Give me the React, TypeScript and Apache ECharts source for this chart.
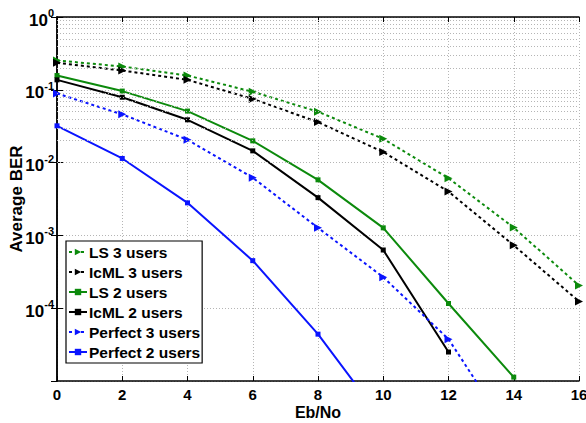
import React, { useEffect, useRef } from "react";
import * as echarts from "echarts";

const xValues = [0, 2, 4, 6, 8, 10, 12, 14, 16];
const ls3 = [0.253, 0.209, 0.157, 0.094, 0.05, 0.0212, 0.0061, 0.00128, 0.000205];
const icml3 = [0.235, 0.184, 0.137, 0.075, 0.036, 0.014, 0.004, 0.00073, 0.000124];
const ls2 = [0.157, 0.096, 0.051, 0.0199, 0.0058, 0.00127, 0.000116, 0.0000113];
const icml2 = [0.137, 0.079, 0.0387, 0.0145, 0.0033, 0.00063, 0.000025];
const perfect3 = [0.089, 0.046, 0.0206, 0.0062, 0.00127, 0.000267, 0.0000376, 0.0000016];
const perfect2 = [0.032, 0.0114, 0.0028, 0.00045, 0.000044, 0.0000028];
const seriesNames = ["LS 3 users", "IcML 3 users", "LS 2 users", "IcML 2 users", "Perfect 3 users", "Perfect 2 users"];

const FONT = "Liberation Sans";
const GREEN = "#0c8a0c";
const BLUE = "#0a14ff";
const BLACK = "#000000";

function pairs(vals: number[]) {
  return vals.map((v, i) => [xValues[i], v]);
}

export default function App() {
  const ref = useRef<HTMLDivElement>(null);
  useEffect(() => {
    if (!ref.current) return;
    const chart = echarts.init(ref.current, undefined, { renderer: "svg" });
    const minor: any[] = [];
    for (let k = -5; k <= -1; k++) {
      for (let m = 2; m <= 9; m++) minor.push({ yAxis: m * Math.pow(10, k) });
    }
    const mk = (name: string, data: number[], color: string, dashed: boolean, symbol: string) => ({
      name,
      type: "line",
      data: pairs(data),
      clip: true,
      symbol: symbol === "tri" ? "triangle" : "rect",
      symbolRotate: symbol === "tri" ? -90 : 0,
      symbolSize: symbol === "tri" ? 8 : 5,
      itemStyle: { color },
      lineStyle: { color, width: 2, type: dashed ? [3, 3] : "solid" },
    });
    const series: any[] = [
      mk(seriesNames[0], ls3, GREEN, true, "tri"),
      mk(seriesNames[1], icml3, BLACK, true, "tri"),
      mk(seriesNames[2], ls2, GREEN, false, "sq"),
      mk(seriesNames[3], icml2, BLACK, false, "sq"),
      mk(seriesNames[4], perfect3, BLUE, true, "tri"),
      mk(seriesNames[5], perfect2, BLUE, false, "sq"),
    ];
    series[0].markLine = {
      silent: true,
      symbol: "none",
      label: { show: false },
      lineStyle: { color: "#b5b5b5", type: [1, 2], width: 1 },
      data: minor,
    };
    const axisLine = { show: true, lineStyle: { color: "#000", width: 1.5 } };
    chart.setOption({
      animation: false,
      grid: { left: 57, right: 7, top: 17, bottom: 42, outerBoundsMode: "none", containLabel: false },
      legend: {
        orient: "vertical",
        left: 66,
        top: 241,
        data: seriesNames,
        backgroundColor: "#fff",
        borderColor: "#000",
        borderWidth: 1.2,
        borderRadius: 0,
        padding: [3, 2, 3, 2],
        itemGap: 4,
        itemWidth: 18,
        itemHeight: 8,
        textStyle: { fontFamily: FONT, fontWeight: "bold", fontSize: 15.5, lineHeight: 15.5, color: "#000", padding: [0, 0, 0, -3] },
      },
      xAxis: [
        {
          type: "value",
          min: 0,
          max: 16,
          interval: 2,
          name: "Eb/No",
          nameLocation: "middle",
          nameGap: 23,
          nameMoveOverlap: false,
          nameTextStyle: { fontFamily: FONT, fontWeight: "bold", fontSize: 16, color: "#000", verticalAlign: "top" },
          axisLine,
          axisTick: { inside: true, length: 5, lineStyle: { color: "#000" } },
          axisLabel: { fontFamily: FONT, fontWeight: "bold", fontSize: 15, color: "#000", margin: 6 },
          splitLine: { show: true, lineStyle: { color: "#b5b5b5", type: [1, 2], width: 1 } },
        },
        {
          type: "value",
          position: "top",
          min: 0,
          max: 16,
          interval: 2,
          axisLine,
          axisTick: { inside: true, length: 5, lineStyle: { color: "#000" } },
          axisLabel: { show: false },
          splitLine: { show: false },
        },
      ],
      yAxis: [
        {
          type: "log",
          logBase: 10,
          min: 1e-5,
          max: 1,
          name: "Average BER",
          nameLocation: "middle",
          nameGap: 32,
          nameMoveOverlap: false,
          nameTextStyle: { fontFamily: FONT, fontWeight: "bold", fontSize: 17, color: "#000" },
          axisLine,
          axisTick: { inside: true, length: 6, lineStyle: { color: "#000" } },
          axisLabel: {
            showMinLabel: false,
            margin: 3,
            formatter: (v: number) => {
              const e = Math.round(Math.log10(v));
              if (e <= -5) return "";
              return `{b|10}{s|${e === 0 ? "0" : "-" + -e}}`;
            },
            rich: {
              b: { fontFamily: FONT, fontWeight: "bold", fontSize: 17, color: "#000", padding: [6, 0, 0, 0] },
              s: { fontFamily: FONT, fontWeight: "bold", fontSize: 11, color: "#000", padding: [0, 0, 8, 0] },
            },
          },
          splitLine: { show: true, lineStyle: { color: "#b5b5b5", type: [1, 2], width: 1 } },
        },
        {
          type: "log",
          logBase: 10,
          min: 1e-5,
          max: 1,
          position: "right",
          axisLine,
          axisTick: { inside: true, length: 6, lineStyle: { color: "#000" } },
          axisLabel: { show: false },
          splitLine: { show: false },
        },
      ],
      series,
    });
    return () => chart.dispose();
  }, []);
  return <div ref={ref} style={{ width: 586, height: 423, position: "absolute", left: 0, top: 0 }} />;
}
